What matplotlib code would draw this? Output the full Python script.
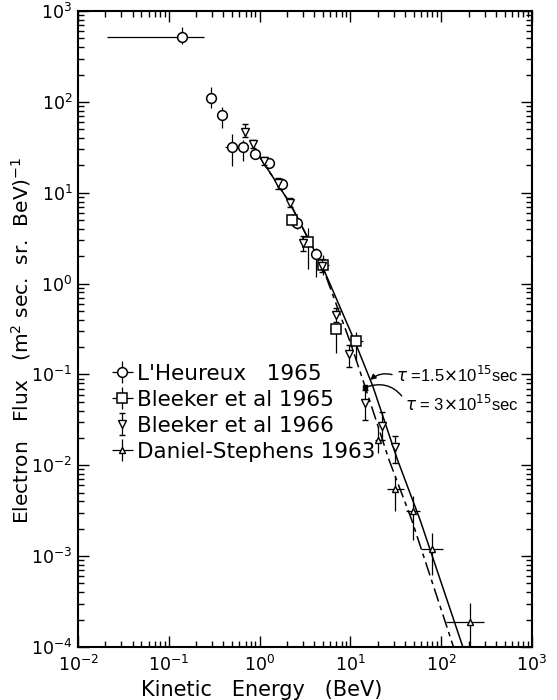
import matplotlib
matplotlib.use("Agg")
import matplotlib.pyplot as plt
import numpy as np

# ---------------- data ----------------
# L'Heureux 1965 (open circles)
lh_x = [0.141, 0.292, 0.385, 0.50, 0.656, 0.90, 1.28, 1.77, 2.60, 4.18]
lh_y = [520, 111, 71, 31.6, 32, 26.5, 21.4, 12.6, 4.69, 2.12]
lh_xlo = [0.021, 0.26, 0.35, 0.415, 0.60, 0.84, 1.13, 1.58, 2.35, 3.75]
lh_xhi = [0.246, 0.33, 0.42, 0.556, 0.72, 0.97, 1.43, 2.00, 2.90, 4.70]
lh_ylo = [433, 85, 51.3, 19.7, 22.5, 23.5, 19.0, 10.8, 4.0, 1.19]
lh_yhi = [662, 145, 88.5, 44.4, 38, 30.0, 24.0, 14.6, 5.6, 2.45]

# Bleeker et al 1965 (open squares)
b65_x = [2.25, 3.44, 4.99, 6.89, 11.4]
b65_y = [4.98, 2.85, 1.61, 0.318, 0.234]
b65_xlo = [2.05, 3.15, 4.25, 6.0, 9.8]
b65_xhi = [2.50, 3.75, 5.8, 7.9, 13.7]
b65_ylo = [4.3, 1.44, 1.25, 0.171, 0.145]
b65_yhi = [5.8, 4.13, 2.05, 0.36, 0.296]

# Bleeker et al 1966 (down triangles)
b66_x = [0.69, 0.85, 1.13, 1.61, 2.14, 3.03, 4.9, 6.89, 9.7, 14.6, 22.3, 31.3]
b66_y = [47, 34, 22.4, 12.9, 7.8, 2.83, 1.58, 0.453, 0.169, 0.049, 0.0274, 0.0158]
b66_ylo = [41, 31, 20.0, 11.0, 6.9, 2.3, 1.35, 0.382, 0.122, 0.0316, 0.019, 0.0106]
b66_yhi = [57, 38, 25.0, 14.5, 8.8, 3.3, 1.85, 0.536, 0.212, 0.0678, 0.0385, 0.0208]

# Daniel-Stephens 1963 (small up triangles)
ds_x = [20.3, 31.3, 49.3, 79.3, 207]
ds_y = [0.019, 0.0055, 0.0031, 0.0012, 1.9e-4]
ds_xlo = [18.5, 25.5, 40.9, 59.4, 113]
ds_xhi = [22.5, 39.2, 58.5, 105, 299]
ds_ylo = [0.0136, 0.0031, 0.0015, 6.2e-4, 8e-5]
ds_yhi = [0.0267, 0.00735, 0.00454, 0.0018, 3.05e-4]

# model curves
tau15_x = [1.00, 2.14, 4.83, 9.9, 14.5, 26.6, 47.3, 138]
tau15_y = [24.9, 7.78, 1.61, 0.230, 0.0737, 0.0115, 0.00251, 9.7e-5]
tau3_x = [1.00, 2.14, 4.83, 11.2, 17.7, 33.0, 58.5, 175]
tau3_y = [24.9, 7.78, 1.61, 0.230, 0.0737, 0.0115, 0.00251, 9.7e-5]

xtick_vals = [1e-2, 1e-1, 1e0, 1e1, 1e2, 1e3]
xtick_labels = ["10$^{-2}$", "10$^{-1}$", "10$^{0}$", "10$^{1}$", "10$^{2}$", "10$^{3}$"]
ytick_vals = [1e-4, 1e-3, 1e-2, 1e-1, 1e0, 1e1, 1e2, 1e3]
ytick_labels = ["10$^{-4}$", "10$^{-3}$", "10$^{-2}$", "10$^{-1}$", "10$^{0}$",
                "10$^{1}$", "10$^{2}$", "10$^{3}$"]

# ---------------- figure ----------------
plt.rcParams['font.family'] = ['DejaVu Sans']
plt.rcParams['mathtext.fontset'] = 'dejavusans'
fig = plt.figure(figsize=(5.57, 7.0), dpi=100)
ax = fig.add_axes([78/557, 1-647/700, (532-78)/557, (647-11)/700])
ax.set_xscale('log')
ax.set_yscale('log')
ax.set_xlim(1e-2, 1e3)
ax.set_ylim(1e-4, 1e3)

def asym(v, lo, hi):
    v = np.array(v); return [v - np.array(lo), np.array(hi) - v]

ax.plot(tau15_x, tau15_y, color='black', lw=1.1, dashes=(9, 3, 3, 3), zorder=2)
ax.plot(tau3_x, tau3_y, color='black', lw=1.1, zorder=2)

h1 = ax.errorbar(lh_x, lh_y, xerr=asym(lh_x, lh_xlo, lh_xhi), yerr=asym(lh_y, lh_ylo, lh_yhi),
                 fmt='o', ms=7, mfc='white', mec='black', mew=1.1, ecolor='black', elinewidth=0.9,
                 zorder=4)
h2 = ax.errorbar(b65_x, b65_y, xerr=asym(b65_x, b65_xlo, b65_xhi), yerr=asym(b65_y, b65_ylo, b65_yhi),
                 fmt='s', ms=7.5, mfc='white', mec='black', mew=1.1, ecolor='black', elinewidth=0.9,
                 zorder=4)
h3 = ax.errorbar(b66_x, b66_y, yerr=asym(b66_y, b66_ylo, b66_yhi),
                 fmt='v', ms=6, mfc='white', mec='black', mew=1.0, ecolor='black', elinewidth=0.9,
                 capsize=2.5, zorder=5)
h4 = ax.errorbar(ds_x, ds_y, xerr=asym(ds_x, ds_xlo, ds_xhi), yerr=asym(ds_y, ds_ylo, ds_yhi),
                 fmt='^', ms=5, mfc='white', mec='black', mew=1.0, ecolor='black', elinewidth=0.9,
                 zorder=5)

ax.set_xticks(xtick_vals)
ax.set_xticklabels(xtick_labels)
ax.set_yticks(ytick_vals)
ax.set_yticklabels(ytick_labels)
ax.tick_params(which='both', direction='in', top=True, right=True, width=1.0)
ax.tick_params(which='major', length=8, labelsize=12.5)
ax.tick_params(axis='y', which='major', pad=4)
ax.tick_params(axis='x', which='major', pad=6)
ax.tick_params(which='minor', length=4.5)
for s in ax.spines.values():
    s.set_linewidth(1.5)

leg = ax.legend([h1, h2, h3, h4],
                ["L'Heureux   1965", "Bleeker et al 1965", "Bleeker et al 1966", "Daniel-Stephens 1963"],
                loc='upper left', bbox_to_anchor=(0.055, 0.459), frameon=False, fontsize=15.5,
                handlelength=1.0, handletextpad=0.2, labelspacing=0.28, borderaxespad=0)

ax.annotate(r"$\tau$ =1.5$\times$10$^{15}$sec", xy=(16.5, 0.087), xytext=(519/557, 1-375/700),
            textcoords='figure fraction', ha='right', va='center', fontsize=12,
            family=['Liberation Sans', 'DejaVu Sans'],
            arrowprops=dict(arrowstyle='-|>', color='black', lw=1.0, mutation_scale=8,
                            relpos=(0, 0.45),
                            connectionstyle='arc3,rad=0.3', shrinkA=1, shrinkB=0))
ax.annotate(r"$\tau$ = 3$\times$10$^{15}$sec", xy=(14.6, 0.072), xytext=(519/557, 1-404/700),
            textcoords='figure fraction', ha='right', va='center', fontsize=12,
            family=['Liberation Sans', 'DejaVu Sans'],
            arrowprops=dict(arrowstyle='-', color='black', lw=1.0, relpos=(0, 0.65),
                            connectionstyle='arc3,rad=0.4', shrinkA=1, shrinkB=0))
ax.plot([14.6], [0.072], marker='s', ms=3, color='black', zorder=6)

fig.text(262/557, 1-690/700, "Kinetic   Energy   (BeV)", ha='center', va='center', fontsize=15)
fig.text(21/557, 1-340/700, "Electron   Flux   (m$^2$ sec.  sr.  BeV)$^{-1}$", ha='center', va='center',
         rotation=90, fontsize=14.5)

fig.savefig("out.png", dpi=100)
